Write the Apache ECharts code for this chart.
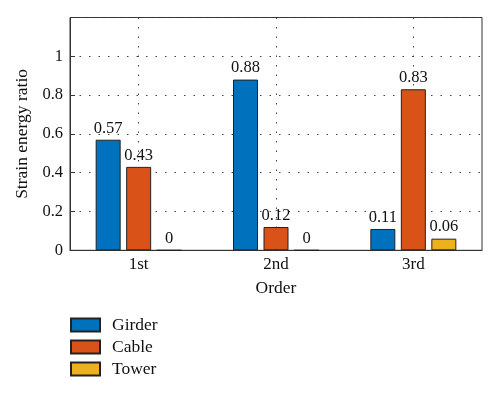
<!DOCTYPE html>
<html><head><meta charset="utf-8">
<script src="https://cdn.jsdelivr.net/npm/echarts@6/dist/echarts.min.js"></script>
<style>html,body{margin:0;padding:0;background:#fff}#c{width:500px;height:393px}</style>
</head><body><div id="c"></div>
<script>
const categories = ['1st', '2nd', '3rd'];
const girder = [0.57, 0.88, 0.11];
const cable = [0.43, 0.12, 0.83];
const tower = [0, 0, 0.06];
const yTicks = [0, 0.2, 0.4, 0.6, 0.8, 1];

const FONT = 'Liberation Serif';
const chart = echarts.init(document.getElementById('c'));
const lbl = {show: true, position: 'top', distance: 3, color: '#111', fontFamily: FONT, fontSize: 16.5,
  formatter: p => String(p.value)};
function ser(name, data, color) {
  return {name, type: 'bar', data, barWidth: 25, barGap: '22%',
    itemStyle: {color, borderColor: '#222', borderWidth: 1}, label: lbl};
}
chart.setOption({
  animation: false,
  grid: {left: 70, right: 18, top: 17.5, bottom: 142.7, show: true, borderColor: '#333', borderWidth: 1, backgroundColor: 'transparent'},
  legend: {orient: 'vertical', left: 70, top: 316, padding: 0, itemWidth: 29, itemHeight: 13, itemGap: 4, icon: 'rect',
    textStyle: {fontFamily: FONT, fontSize: 17.5, color: '#111', padding: [0, 0, 0, 7]},
    data: ['Girder', 'Cable', 'Tower']},
  xAxis: {type: 'category', data: categories,
    axisLine: {lineStyle: {color: '#333'}},
    axisTick: {show: true, alignWithLabel: true, inside: true, length: 5, lineStyle: {color: '#333'}},
    axisLabel: {fontFamily: FONT, fontSize: 17, color: '#111', margin: 6},
    splitLine: {show: true, alignWithLabel: true, lineStyle: {type: [1.5, 8], color: '#444'}},
    name: 'Order', nameLocation: 'middle', nameGap: 29,
    nameTextStyle: {fontFamily: FONT, fontSize: 17.5, color: '#111'}},
  yAxis: {type: 'value', min: 0, max: 1.2, interval: 0.2,
    axisLine: {show: true, lineStyle: {color: '#333'}},
    axisTick: {show: true, inside: true, length: 5, lineStyle: {color: '#333'}},
    axisLabel: {fontFamily: FONT, fontSize: 16.5, color: '#111', margin: 7,
      formatter: v => yTicks.some(t => Math.abs(t - v) < 1e-9) ? String(+v.toFixed(1)) : ''},
    splitLine: {show: true, lineStyle: {type: [1.5, 8], color: '#444'}},
    name: 'Strain energy ratio', nameLocation: 'middle', nameGap: 31,
    nameTextStyle: {fontFamily: FONT, fontSize: 17.5, color: '#111'}},
  series: [ser('Girder', girder, '#0072BD'), ser('Cable', cable, '#D95319'), ser('Tower', tower, '#EDB120')]
});
</script></body></html>
